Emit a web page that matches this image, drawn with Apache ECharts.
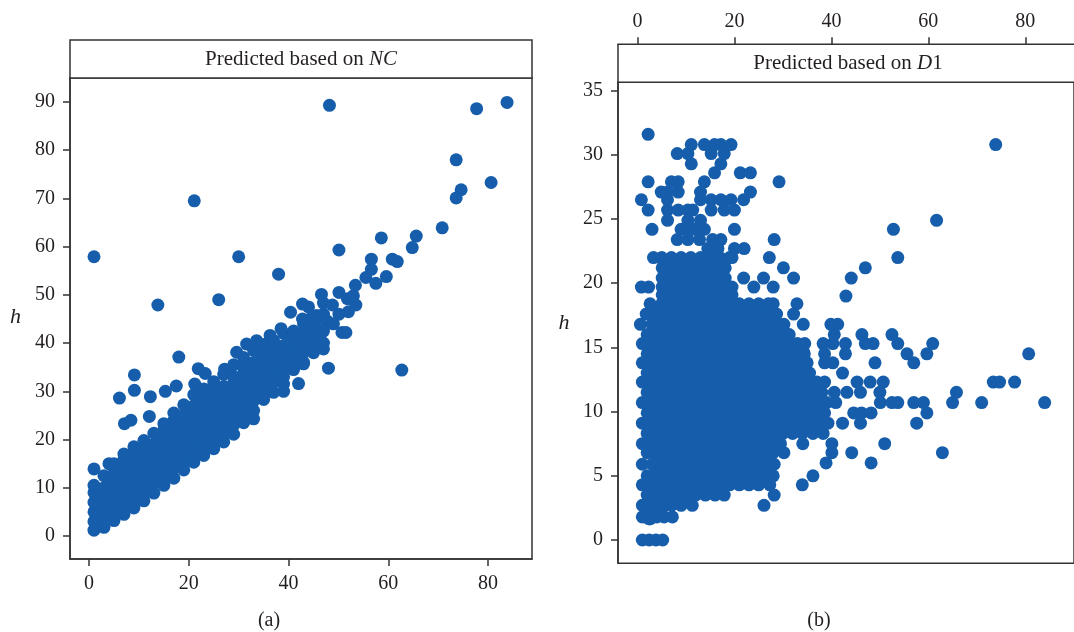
<!DOCTYPE html>
<html>
<head>
<meta charset="utf-8">
<script src="https://cdn.jsdelivr.net/npm/echarts@6/dist/echarts.min.js"></script>
<style>html,body{margin:0;padding:0;background:#fff;}#c{width:1074px;height:632px;}</style>
</head>
<body>
<div id="c"></div>
<script>
// ---------- tick labels ----------
const ncXTicks = [0, 20, 40, 60, 80];
const ncYTicks = [0, 10, 20, 30, 40, 50, 60, 70, 80, 90];
const d1XTicks = [0, 20, 40, 60, 80];
const d1YTicks = [0, 5, 10, 15, 20, 25, 30, 35];

// ---------- panel (a): predicted based on NC — dense band, by column [x, [y...]] ----------
const ncColumns = [
  [1,  [1.2, 3, 5, 7, 9, 10.5]],
  [3,  [1.8, 4, 6, 8, 10, 12.5]],
  [5,  [3.2, 5, 7, 9, 11, 13, 15]],
  [7,  [4.5, 6, 8, 10, 12, 14, 16, 17]],
  [9,  [5.8, 7, 9, 11, 13, 15, 17, 18.5]],
  [11, [7.3, 9, 11, 13, 15, 17, 19, 19.8]],
  [13, [8.9, 11, 13, 15, 17, 19, 21.3]],
  [15, [10.5, 12, 14, 16, 18, 20, 22, 23.3]],
  [17, [12, 14, 16, 18, 20, 22, 24, 25.5]],
  [19, [13.7, 15, 17, 19, 21, 23, 25, 27.2]],
  [21, [15.3, 17, 19, 21, 23, 25, 27, 29.3]],
  [23, [16.7, 18, 20, 22, 24, 26, 28, 30.5]],
  [25, [18.1, 20, 22, 24, 26, 28, 30, 32]],
  [27, [19.5, 21, 23, 25, 27, 29, 31, 33.5]],
  [29, [21.1, 23, 25, 27, 29, 31, 33, 35.5]],
  [31, [23.5, 25, 27, 29, 31, 33, 35, 37]],
  [33, [26, 28, 30, 32, 34, 36, 38.5]],
  [35, [28.3, 29, 31, 33, 35, 37, 39.7]],
  [37, [29.8, 32, 34, 36, 38, 40.5]],
  [39, [31.5, 33, 35, 37, 39, 42]],
  [41, [34.5, 36, 38, 40, 42.5]],
  [43, [36, 38, 40, 42, 44]],
  [45, [38, 40, 42, 44]],
  [47, [40, 42.5, 45]]
];
// scattered points of panel (a) [x, y]
const ncOutliers = [
  [1, 13.9], [4, 15], [6.1, 28.6], [9.1, 30.2], [9.1, 33.4], [12.3, 28.9], [12.1, 24.8],
  [7.1, 23.3], [8.4, 24], [15.3, 30], [17.5, 31.1], [18, 37.1], [21.2, 31.5], [21.9, 34.7],
  [23.3, 33.7], [27.2, 34.6], [29.6, 38.1], [31.6, 39.8], [33.6, 40.5], [36.3, 41.6],
  [38.5, 43], [40.3, 40.9], [43, 42.2], [42, 31.6], [43, 35.7], [48, 34.8], [47, 38.8],
  [46, 42.6], [50.7, 42.2], [51.5, 42.2], [44.3, 45], [47, 46], [45.6, 45.7], [47.7, 44.6],
  [40.4, 46.4], [42.8, 48.1], [42.8, 45], [46.6, 50.1], [47, 48.3], [48.8, 47.9],
  [50.1, 50.5], [50.1, 46], [51.8, 49.2], [53, 49.8], [53.5, 47.9], [53.4, 52], [55.5, 53.6],
  [57.5, 52.4], [59.6, 53.8], [56.6, 55.3], [56.6, 57.4], [60.8, 57.4], [61.8, 56.9],
  [49, 44], [45, 40], [41, 38], [52, 46.5], [44, 47.5], [39, 30], [33, 24.3],
  [13.8, 47.9], [26, 49], [38, 54.3], [30, 57.9], [1, 57.9], [21.1, 69.5], [48.2, 89.3],
  [50.1, 59.3], [58.6, 61.8], [65.6, 62.2], [64.8, 59.8], [70.8, 63.9], [73.6, 78],
  [74.6, 71.8], [73.6, 70.1], [77.7, 88.6], [83.8, 89.9], [80.6, 73.3], [62.7, 34.4]
];

// ---------- panel (b): predicted based on D1 — dense block, by row [y, [x...]] ----------
const d1Rows = [
  [0.0,  [1.0, 2.4, 3.8, 5.2]],
  [1.8,  [1, 2.5, 4, 5.5, 7.2]],
  [2.7,  [1, 3, 5, 7, 9, 11.3]],
  [3.5,  [2, 4, 6, 8, 10, 12, 14, 16, 17.9]],
  [4.3,  [1, 3, 5, 7, 9, 11, 13, 15, 17, 19, 21, 23, 25, 27.3]],
  [5.0,  [2, 4, 6, 8, 10, 12, 14, 16, 18, 20, 22, 24, 26, 28]],
  [5.9,  [1, 3, 5, 7, 9, 11, 13, 15, 17, 19, 21, 23, 25, 27, 28.2]],
  [6.8,  [2, 4, 6, 8, 10, 12, 14, 16, 18, 20, 22, 24, 26, 28, 30.2]],
  [7.5,  [1, 3, 5, 7, 9, 11, 13, 15, 17, 19, 21, 23, 25, 27, 29.5]],
  [8.3,  [2, 4, 6, 8, 10, 12, 14, 16, 18, 20, 22, 24, 26, 28, 30, 32, 34, 36.2, 38.3]],
  [9.1,  [1, 3, 5, 7, 9, 11, 13, 15, 17, 19, 21, 23, 25, 27, 29, 31, 33, 35, 37, 39.3, 42.3]],
  [9.9,  [2, 4, 6, 8, 10, 12, 14, 16, 18, 20, 22, 24, 26, 28, 30, 32, 34, 36, 38.6]],
  [10.7, [1, 3, 5, 7, 9, 11, 13, 15, 17, 19, 21, 23, 25, 27, 29, 31, 33, 35, 37, 39, 40.9]],
  [11.5, [2, 4, 6, 8, 10, 12, 14, 16, 18, 20, 22, 24, 26, 28, 30, 32, 34, 36, 38, 40.6, 43.2]],
  [12.3, [1, 3, 5, 7, 9, 11, 13, 15, 17, 19, 21, 23, 25, 27, 29, 31, 33, 35, 37, 38.6]],
  [13.0, [2, 4, 6, 8, 10, 12, 14, 16, 18, 20, 22, 24, 26, 28, 30, 32, 34, 35.5]],
  [13.8, [1, 3, 5, 7, 9, 11, 13, 15, 17, 19, 21, 23, 25, 27, 29, 31, 33, 35, 38.6, 40.3]],
  [14.5, [2, 4, 6, 8, 10, 12, 14, 16, 18, 20, 22, 24, 26, 28, 30, 32, 34, 38.6]],
  [15.3, [1, 3, 5, 7, 9, 11, 13, 15, 17, 19, 21, 23, 25, 27, 29, 31, 33, 34.5, 38.3, 40.3]],
  [16.0, [2, 4, 6, 8, 10, 12, 14, 16, 18, 20, 22, 24, 26, 28, 30, 31.3]],
  [16.8, [0.6, 3, 5, 7, 9, 11, 13, 15, 17, 19, 21, 23, 25, 27, 29, 30.2]],
  [17.6, [1.8, 4, 6, 8, 10, 12, 14, 16, 18, 20, 22, 24, 26, 28, 28.7]],
  [18.4, [2.6, 5, 7, 9, 11, 13, 15, 17, 19, 21, 23, 25, 27, 28]],
  [19.1, [5.1, 7, 9, 11, 13, 15, 17, 19.5]],
  [19.7, [0.8, 2.3, 5.1, 6, 8, 10, 12, 14, 16, 18, 19.5]],
  [20.4, [5.1, 7, 9, 11, 13, 15, 17, 18.1]],
  [21.2, [5.1, 6, 8, 10, 12, 14, 16, 18.1]],
  [22.0, [3.3, 5, 7, 9, 11, 13, 15, 17, 19, 19.5]]
];
// scattered points of panel (b), by row [y, [x...]]
const d1Sparse = [
  [2.7,  [26.1]],
  [3.5,  [28.2]],
  [4.3,  [34]],
  [5.0,  [36.2]],
  [6.0,  [38.9, 48.2]],
  [6.8,  [40.1, 44.2, 62.9]],
  [7.5,  [34.1, 40.1, 51]],
  [9.1,  [46, 57.6]],
  [9.9,  [44.6, 46.2, 48.2, 59.7]],
  [10.7, [50.1, 52.5, 53.7, 57, 59, 65, 71, 84]],
  [11.5, [46, 50, 65.8]],
  [12.3, [45.3, 48, 50.7, 73.4, 74.7, 77.8]],
  [13.0, [42.3]],
  [13.8, [49, 57]],
  [14.5, [42.9, 55.6, 59.7, 80.7]],
  [15.3, [42.9, 47, 48.6, 53.7, 60.9]],
  [16.0, [40.6, 46.3, 52.5]],
  [16.8, [34.2, 39.9, 41.3]],
  [17.6, [32.2]],
  [18.4, [32.9]],
  [19.0, [43]],
  [19.7, [24, 28]],
  [20.4, [21.9, 26, 32.2, 44.1]],
  [21.2, [30.1, 47]],
  [22.0, [27.2, 53.7]],
  [22.7, [14.5, 16.6, 20, 22]],
  [23.4, [8.2, 10.4, 12.8, 15.5, 17.2, 28.2]],
  [24.2, [3, 9, 10.4, 11.8, 13.8, 20, 52.8]],
  [24.9, [6.2, 10.4, 13, 61.7]],
  [25.7, [2.2, 6.2, 8.4, 10.4, 11.4, 15.2, 17.9, 20]],
  [26.5, [0.8, 6.2, 13, 15.2, 17.2, 19.3, 21.9]],
  [27.1, [4.9, 6.2, 8.4, 13, 23.3]],
  [27.9, [2.2, 7, 8.4, 13.8, 29.2]],
  [28.6, [15.9, 21.2, 23.3]],
  [29.3, [11.1, 17.2]],
  [30.1, [8.2, 10.4, 15.2, 17.9]],
  [30.8, [11.1, 13.8, 15.9, 17.2, 19.3, 73.9]],
  [31.6, [2.2]]
];

// ---------- build point lists ----------
// Points well inside a dense block (neighbours on all sides) are drawn a little larger
// so the block renders solid, as in the original; all other points use the normal dot size.
function splitDense(groups, toPoint, margin) {
  const core = [], rim = [];
  groups.forEach(([k, vs], gi) => {
    const prev = groups[gi - 1], next = groups[gi + 1];
    vs.forEach((v, vi) => {
      let inside = !!(prev && next) && vi > 0 && vi < vs.length - 1;
      if (inside) {
        [prev, next].forEach(g => {
          const lo = Math.min.apply(null, g[1]), hi = Math.max.apply(null, g[1]);
          if (!(v > lo + margin && v < hi - margin)) inside = false;
        });
      }
      (inside ? core : rim).push(toPoint(k, v));
    });
  });
  return { core, rim };
}
const ncSplit = splitDense(ncColumns, (x, y) => [x, y], 1.2);
const ncCore = ncSplit.core;
const ncPoints = ncSplit.rim.concat(ncOutliers);

const d1Split = splitDense(d1Rows, (y, x) => [x, y], 1.2);
const d1Core = d1Split.core;
const d1Points = d1Split.rim.slice();
d1Sparse.forEach(([y, xs]) => xs.forEach(x => d1Points.push([x, y])));

const FONT = '"Liberation Serif", "Times New Roman", serif';
const TXT = '#231f20';
const LINE = '#333333';
const DOT = '#165eab';
const LW = 1.5;

function axisCommon(ticks, margin) {
  return {
    axisLine: { show: true, onZero: false, lineStyle: { color: LINE, width: LW } },
    axisTick: { show: true, inside: false, length: 7, customValues: ticks, lineStyle: { color: LINE, width: LW } },
    axisLabel: { show: true, customValues: ticks, margin: margin, fontFamily: FONT, fontSize: 20, color: TXT },
    splitLine: { show: false }
  };
}
function dots(xi, data, size) {
  return { type: 'scatter', xAxisIndex: xi, yAxisIndex: xi, data: data, symbol: 'circle', symbolSize: size,
    itemStyle: { color: DOT, opacity: 1 }, emphasis: { disabled: true }, silent: true };
}

const chart = echarts.init(document.getElementById('c'), null, { renderer: 'canvas' });
chart.setOption({
  animation: false,
  backgroundColor: '#ffffff',
  grid: [
    { left: 70, top: 78, width: 462, height: 481, show: true, borderColor: LINE, borderWidth: LW, backgroundColor: 'transparent' },
    { left: 618, top: 82.3, width: 468, height: 481, show: true, borderColor: LINE, borderWidth: LW, backgroundColor: 'transparent' }
  ],
  xAxis: [
    Object.assign({ type: 'value', gridIndex: 0, min: -3.81, max: 88.8, position: 'bottom' }, axisCommon(ncXTicks, 15)),
    Object.assign({ type: 'value', gridIndex: 1, min: -4.02, max: 90.05, position: 'top', offset: 38 }, axisCommon(d1XTicks, 13))
  ],
  yAxis: [
    Object.assign({ type: 'value', gridIndex: 0, min: -4.77, max: 94.97, position: 'left' }, axisCommon(ncYTicks, 15)),
    Object.assign({ type: 'value', gridIndex: 1, min: -1.815, max: 35.65, position: 'left' }, axisCommon(d1YTicks, 15))
  ],
  series: [
    dots(0, ncCore, 17),
    dots(0, ncPoints, 13),
    dots(1, d1Core, 17),
    dots(1, d1Points, 13)
  ],
  graphic: [
    { type: 'rect', shape: { x: 70, y: 40, width: 462, height: 38 }, style: { fill: '#fff', stroke: LINE, lineWidth: LW }, z: 10 },
    { type: 'rect', shape: { x: 618, y: 44.3, width: 470, height: 38 }, style: { fill: '#fff', stroke: LINE, lineWidth: LW }, z: 10 },
    { type: 'text', x: 301, y: 59, z: 11, style: {
        text: '{r|Predicted based on }{i|NC}', textAlign: 'center', textVerticalAlign: 'middle', verticalAlign: 'middle',
        fill: TXT, font: '21px ' + FONT,
        rich: { r: { fontFamily: FONT, fontSize: 21, fill: TXT, color: TXT }, i: { fontFamily: FONT, fontSize: 21, fontStyle: 'italic', fill: TXT, color: TXT } } } },
    { type: 'text', x: 848, y: 63.5, z: 11, style: {
        text: '{r|Predicted based on }{i|D}{r|1}', textAlign: 'center', textVerticalAlign: 'middle', verticalAlign: 'middle',
        fill: TXT, font: '21px ' + FONT,
        rich: { r: { fontFamily: FONT, fontSize: 21, fill: TXT, color: TXT }, i: { fontFamily: FONT, fontSize: 21, fontStyle: 'italic', fill: TXT, color: TXT } } } },
    { type: 'text', x: 15.5, y: 317, z: 11, style: { text: 'h', textAlign: 'center', textVerticalAlign: 'middle', verticalAlign: 'middle', fill: TXT, font: 'italic 22px ' + FONT } },
    { type: 'text', x: 564, y: 323, z: 11, style: { text: 'h', textAlign: 'center', textVerticalAlign: 'middle', verticalAlign: 'middle', fill: TXT, font: 'italic 22px ' + FONT } },
    { type: 'text', x: 269, y: 621, z: 11, style: { text: '(a)', textAlign: 'center', textVerticalAlign: 'middle', verticalAlign: 'middle', fill: TXT, font: '20px ' + FONT } },
    { type: 'text', x: 819, y: 621, z: 11, style: { text: '(b)', textAlign: 'center', textVerticalAlign: 'middle', verticalAlign: 'middle', fill: TXT, font: '20px ' + FONT } }
  ]
});
</script>
</body>
</html>
